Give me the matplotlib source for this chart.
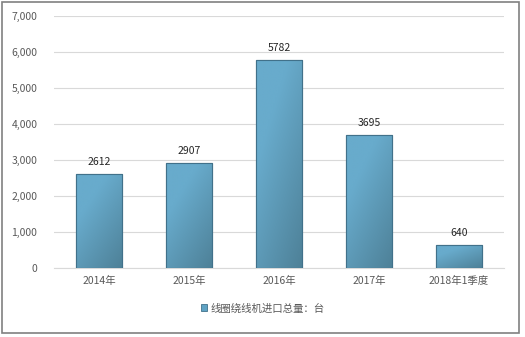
import matplotlib.pyplot as plt
import numpy as np
from matplotlib.patches import Rectangle
from matplotlib.colors import LinearSegmentedColormap

plt.rcParams['font.family'] = ['Noto Sans CJK SC', 'DejaVu Sans']

categories = ['2014年', '2015年', '2016年', '2017年', '2018年1季度']
values = [2612, 2907, 5782, 3695, 640]
series_name = '线圈绕线机进口总量：台'

fig = plt.figure(figsize=(5.25, 3.37), dpi=100)
ax = fig.add_axes([0.103, 0.205, 0.857, 0.748])

x = np.arange(len(categories))
bars = ax.bar(x, values, width=0.51, color='#5FA3C4', edgecolor='#41718A',
              linewidth=0.8, zorder=3, label=series_name)

# gradient fill inside each bar: light top-left, darker bottom-right
grad = np.linspace(0, 1, 64)
gx, gy = np.meshgrid(grad, grad)
g = np.clip(gx * 0.5 + gy * 0.7 - 0.35, 0, 1)
cmap = LinearSegmentedColormap.from_list('bar', ['#68ABCC', '#4E8198'])
for b in bars:
    bx, by = b.get_x(), b.get_y()
    w, h = b.get_width(), b.get_height()
    im = ax.imshow(g, cmap=cmap, extent=[bx, bx + w, by, by + h], origin='upper',
                   aspect='auto', zorder=3.5, interpolation='bilinear')
    im.set_clip_path(b)
    ax.add_patch(Rectangle((bx, by), w, h, fill=False, edgecolor='#41718A',
                           linewidth=0.8, zorder=4))

for xi, v in zip(x, values):
    ax.annotate(str(v), (xi, v), xytext=(0, 5), textcoords='offset points',
                ha='center', va='bottom', fontsize=7.5, color='#262626')

ax.set_xlim(-0.5, len(categories) - 0.5)
ax.set_ylim(0, 7000)
ax.set_yticks(range(0, 7001, 1000))
ax.set_yticklabels([f'{t:,}' for t in range(0, 7001, 1000)])
ax.set_xticks(x)
ax.set_xticklabels(categories)
ax.tick_params(axis='both', length=0, labelsize=7.5, colors='#595959')
ax.tick_params(axis='y', pad=12)
ax.tick_params(axis='x', pad=6)
ax.grid(axis='y', color='#D9D9D9', linewidth=0.8, zorder=0)
for s in ['top', 'right', 'left']:
    ax.spines[s].set_visible(False)
ax.spines['bottom'].set_color('#D9D9D9')

leg = fig.legend(handles=[Rectangle((0, 0), 1, 1, facecolor='#5FA3C4', edgecolor='#41718A', linewidth=0.6)],
                 labels=[series_name], loc='center', bbox_to_anchor=(0.5, 0.085),
                 frameon=False, fontsize=7.5, handlelength=0.6, handleheight=0.6,
                 handletextpad=0.3)
for t in leg.get_texts():
    t.set_color('#595959')

fig.patches.append(Rectangle((0.004, 0.012), 0.984, 0.982, transform=fig.transFigure,
                             fill=False, edgecolor='#808080', linewidth=1.2))

fig.savefig('out.png', dpi=100)
